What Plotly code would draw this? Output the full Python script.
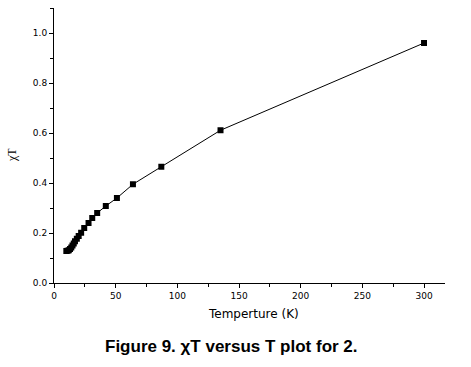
import plotly.graph_objects as go

temperature = [10, 11, 12, 13, 14, 15, 16, 17, 18.5, 20, 22, 24.5, 28, 31, 35, 42, 51, 64, 87, 135, 300]
chi_t = [0.128, 0.129, 0.131, 0.136, 0.142, 0.150, 0.158, 0.167, 0.177, 0.188, 0.201, 0.220, 0.240, 0.260, 0.280, 0.308, 0.340, 0.395, 0.465, 0.611, 0.960]

x_ticks = [0, 50, 100, 150, 200, 250, 300]
y_ticks = [0.0, 0.2, 0.4, 0.6, 0.8, 1.0]
y_tick_labels = ["0.0", "0.2", "0.4", "0.6", "0.8", "1.0"]

W, H = 471, 367
ML, MR, MT, MB = 54, 26, 8, 84
plot_w = W - ML - MR
plot_h = H - MT - MB


def px(xp, yp):
    return (xp - ML) / plot_w, (H - MB - yp) / plot_h


fig = go.Figure()
fig.add_trace(go.Scatter(
    x=temperature, y=chi_t, mode="lines+markers",
    line=dict(color="black", width=1),
    marker=dict(symbol="square", size=6, color="black"),
    showlegend=False,
))

tickfont = dict(family="DejaVu Sans", size=9, color="black")
ax_x, ax_y = px(253, 314)
chi_x, chi_y = px(12, 155)
cap_x, cap_y = px(231, 346)

fig.update_layout(
    width=W, height=H,
    margin=dict(l=ML, r=MR, t=MT, b=MB),
    paper_bgcolor="white", plot_bgcolor="white",
    xaxis=dict(range=[0, 317], tickvals=x_ticks, ticks="outside", ticklen=4,
               showline=True, linecolor="black", linewidth=1, showgrid=False, zeroline=False,
               tickfont=tickfont, tickcolor="black",
               minor=dict(dtick=25, ticks="outside", ticklen=3, tickcolor="black")),
    yaxis=dict(range=[0, 1.1], tickvals=y_ticks, ticktext=y_tick_labels, ticks="outside", ticklen=4,
               showline=True, linecolor="black", linewidth=1, showgrid=False, zeroline=False,
               tickfont=tickfont, tickcolor="black",
               minor=dict(dtick=0.1, ticks="outside", ticklen=3, tickcolor="black")),
    annotations=[
        dict(text="Temperture (K)", x=ax_x, y=ax_y, xref="paper", yref="paper", showarrow=False,
             font=dict(family="DejaVu Sans", size=12, color="black"), xanchor="center", yanchor="middle"),
        dict(text="χT", x=chi_x, y=chi_y, xref="paper", yref="paper", showarrow=False, textangle=-90,
             font=dict(family="Times New Roman, Liberation Serif", size=12, color="black"),
             xanchor="center", yanchor="middle"),
        dict(text="<b>Figure 9. χT versus T plot for 2.</b>", x=cap_x, y=cap_y, xref="paper", yref="paper",
             showarrow=False, font=dict(family="Arial, Liberation Sans", size=17, color="black"),
             xanchor="center", yanchor="middle"),
    ],
)

fig.write_html("out.html", config={"displayModeBar": False},
               post_script="document.body.style.margin='0';document.body.style.padding='0';")
